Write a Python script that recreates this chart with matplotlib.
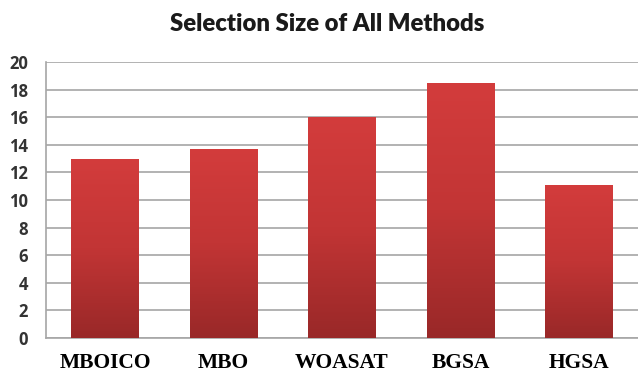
import numpy as np
import matplotlib
matplotlib.use("Agg")
import matplotlib.pyplot as plt
from matplotlib.colors import LinearSegmentedColormap

methods = ["MBOICO", "MBO", "WOASAT", "BGSA", "HGSA"]
sizes = [13.0, 13.7, 16.0, 18.5, 11.1]
yticks = list(range(0, 21, 2))

fig = plt.figure(figsize=(6.38, 3.74), dpi=100)
ax = fig.add_axes([46 / 638, 36 / 374, 592 / 638, 276 / 374])

# red bars, lighter at the top and darker at the base
shade = LinearSegmentedColormap.from_list("shade", ["#992828", "#c23535", "#d33c3c"])
grad = np.linspace(0, 1, 256).reshape(-1, 1)
bars = ax.bar(range(len(methods)), sizes, width=0.57, color="none", zorder=3)
for b in bars:
    x0, w, h = b.get_x(), b.get_width(), b.get_height()
    im = ax.imshow(grad, cmap=shade, origin="lower", aspect="auto",
                   extent=[x0, x0 + w, 0, h], zorder=3)
    im.set_clip_path(b)

ax.set_xlim(-0.5, len(methods) - 0.5)
ax.set_ylim(0, 20)
ax.set_yticks(yticks)
ax.yaxis.grid(True, color="#a6a6a6", linewidth=1.2, zorder=0)
ax.set_axisbelow(True)
for s in ["top", "right"]:
    ax.spines[s].set_visible(False)
for s in ["left", "bottom"]:
    ax.spines[s].set_color("#a6a6a6")
    ax.spines[s].set_linewidth(1.2)
ax.tick_params(axis="both", length=0)
ax.tick_params(axis="y", pad=13)
ax.tick_params(axis="x", pad=11)
ax.set_xticks(range(len(methods)))
ax.set_xticklabels(methods, fontfamily="Liberation Serif", fontweight="bold", fontsize=15.5)
for t in ax.get_yticklabels():
    t.set_fontfamily("Open Sans")
    t.set_fontweight("bold")
    t.set_fontsize(12)
    t.set_color("#333333")

fig.text(327 / 638, 1 - 24 / 374, "Selection Size of All Methods", ha="center", va="center",
         fontfamily="Lato", fontweight="heavy", fontsize=17.2, color="#1a1a1a")

fig.savefig("out.png", dpi=100)
